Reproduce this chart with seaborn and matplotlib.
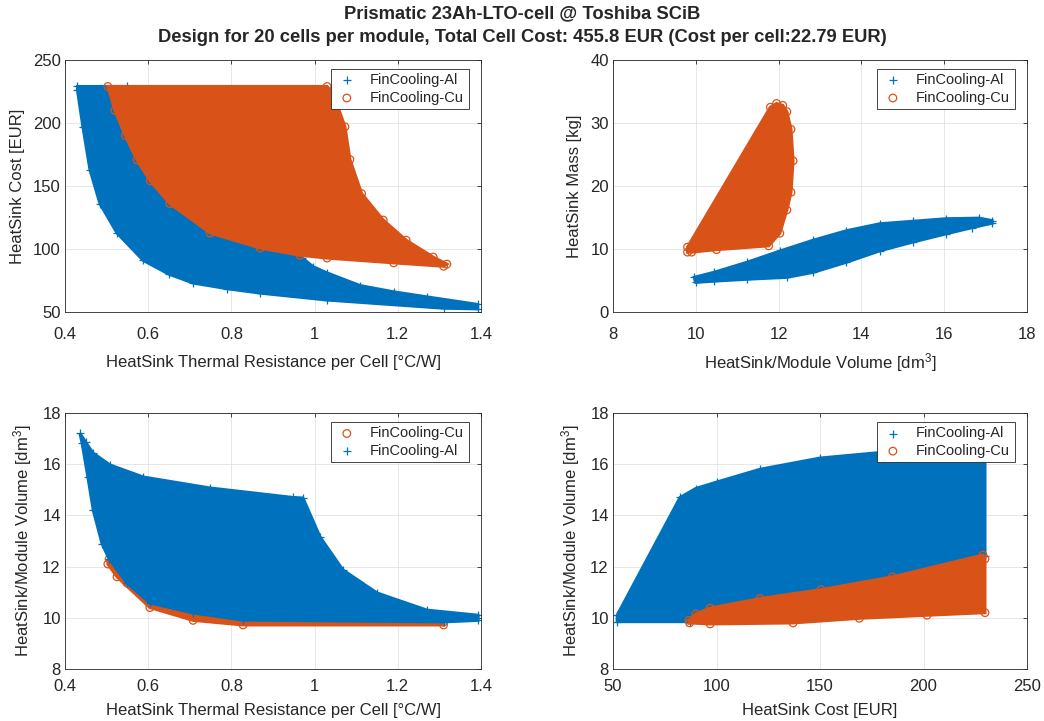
import matplotlib
matplotlib.use("Agg")
import matplotlib.pyplot as plt
import seaborn as sns
import pandas as pd

# ---------------- data (outline vertices of each design cloud) ----------------
# Top-left: HeatSink cost [EUR] vs thermal resistance per cell [degC/W]
tl_al_res = [0.430, 0.550, 0.970, 0.996, 1.030, 1.109, 1.190, 1.270, 1.392, 1.392, 1.310, 1.030,
             0.869, 0.790, 0.708, 0.650, 0.588, 0.525, 0.484, 0.460, 0.443, 0.430]
tl_al_cost = [229, 229, 93, 86, 81, 71, 66, 62, 56, 52.5, 53, 59.5,
              65, 68.5, 73, 80, 91, 112.7, 136, 163, 197, 226]
tl_cu_res = [0.503, 1.030, 1.044, 1.073, 1.085, 1.113, 1.165, 1.220, 1.285, 1.318, 1.310, 1.190,
             1.030, 0.965, 0.869, 0.749, 0.652, 0.605, 0.573, 0.545, 0.520]
tl_cu_cost = [229, 229, 224, 197, 171, 144, 123, 107, 93.6, 88, 86.3, 89,
              92.8, 95, 100.8, 112.7, 136, 154, 170.6, 190, 210]

# Top-right: HeatSink mass [kg] vs HeatSink/module volume [dm3]
tr_al_vol = [9.96, 10.44, 11.24, 12.04, 12.84, 13.64, 14.44, 15.24, 16.04, 16.84, 17.16,
             17.16, 16.68, 16.04, 15.24, 14.44, 13.64, 12.84, 12.20, 11.24, 10.44, 10.00]
tr_al_mass = [5.5, 6.3, 7.9, 9.7, 11.4, 12.9, 14.0, 14.4, 14.8, 14.9, 14.5,
              14.1, 13.4, 12.4, 11.1, 9.7, 7.9, 6.3, 5.5, 5.2, 4.9, 4.7]
tr_cu_vol = [9.80, 9.80, 11.80, 11.95, 12.10, 12.20, 12.30, 12.35, 12.30, 12.20, 12.03, 11.76, 10.50, 9.90]
tr_cu_mass = [9.5, 10.3, 32.5, 33.1, 32.8, 31.8, 29.0, 24.0, 19.0, 16.2, 12.5, 10.5, 9.9, 9.5]

# Bottom-left: HeatSink/module volume [dm3] vs thermal resistance per cell
bl_al_res = [0.436, 0.450, 0.467, 0.508, 0.588, 0.749, 0.948, 0.972, 1.013, 1.068, 1.150, 1.270, 1.393,
             1.393, 1.310, 0.828, 0.708, 0.604, 0.549, 0.506, 0.489, 0.468, 0.455, 0.441]
bl_al_vol = [17.2, 16.85, 16.44, 15.97, 15.5, 15.07, 14.7, 14.68, 13.16, 11.87, 10.97, 10.3, 10.1,
             9.9, 9.84, 9.91, 10.19, 10.58, 11.36, 12.3, 12.9, 14.2, 15.5, 16.83]
bl_cu_res = [0.506, 0.549, 0.604, 0.708, 0.828, 1.310, 1.310, 0.828, 0.708, 0.604, 0.525, 0.503]
bl_cu_vol = [12.3, 11.36, 10.58, 10.19, 9.91, 9.84, 9.72, 9.72, 9.90, 10.4, 11.6, 12.1]

# Bottom-right: HeatSink/module volume [dm3] vs HeatSink cost [EUR]
br_al_cost = [52, 52, 82.4, 90, 100, 121, 150, 185, 229, 229.7, 229.7, 87]
br_al_vol = [9.85, 10.1, 14.7, 15.05, 15.3, 15.8, 16.24, 16.5, 16.6, 16.3, 12.4, 9.85]
br_cu_cost = [86.7, 90, 96.9, 121, 150.5, 185, 228.7, 229.7, 229.7, 201.7, 169, 137, 96.9, 87]
br_cu_vol = [9.9, 10.15, 10.38, 10.75, 11.1, 11.6, 12.45, 12.3, 10.2, 10.1, 9.98, 9.8, 9.76, 9.8]

label_al = "FinCooling-Al"
label_cu = "FinCooling-Cu"

title1 = "Prismatic 23Ah-LTO-cell @ Toshiba SCiB"
title2 = "Design for 20 cells per module, Total Cell Cost: 455.8 EUR (Cost per cell:22.79 EUR)"

# ---------------- style ----------------
BLUE = "#0072BD"
ORANGE = "#D95319"
AXC = "#262626"

sns.set_theme(style="whitegrid")
plt.rcParams.update({
    "font.family": ["Liberation Sans", "DejaVu Sans"],
    "mathtext.default": "regular",
    "axes.edgecolor": AXC,
    "axes.linewidth": 0.6,
    "grid.color": "#e3e3e3",
    "grid.linewidth": 0.6,
    "xtick.color": AXC,
    "ytick.color": AXC,
    "axes.labelcolor": AXC,
})

fig = plt.figure(figsize=(10.44, 7.21), dpi=100)
W, H = 1044.0, 721.0


def make_ax(l, t, r, b):
    return fig.add_axes([l / W, 1 - b / H, (r - l) / W, (b - t) / H])


ax_tl = make_ax(65, 60, 481, 312)
ax_tr = make_ax(613, 60, 1027, 312)
ax_bl = make_ax(65, 413, 481, 669)
ax_br = make_ax(613, 413, 1027, 669)


def cloud(ax, xs, ys, color, marker, label, z):
    ax.fill(xs, ys, facecolor=color, edgecolor=color, linewidth=2.2, zorder=z)
    df = pd.DataFrame({"x": xs, "y": ys})
    if marker == "+":
        sns.scatterplot(data=df, x="x", y="y", ax=ax, marker="+", color=color,
                        s=40, linewidth=0.9, label=label, zorder=z + 0.5)
    else:
        sns.scatterplot(data=df, x="x", y="y", ax=ax, marker="o", facecolors="none",
                        edgecolor=color, s=30, linewidth=0.9, label=label, zorder=z + 0.5)


# top-left
cloud(ax_tl, tl_al_res, tl_al_cost, BLUE, "+", label_al, 2)
cloud(ax_tl, tl_cu_res, tl_cu_cost, ORANGE, "o", label_cu, 3)
# top-right
cloud(ax_tr, tr_al_vol, tr_al_mass, BLUE, "+", label_al, 2)
cloud(ax_tr, tr_cu_vol, tr_cu_mass, ORANGE, "o", label_cu, 3)
# bottom-left (Cu first, Al on top)
cloud(ax_bl, bl_cu_res, bl_cu_vol, ORANGE, "o", label_cu, 2)
cloud(ax_bl, bl_al_res, bl_al_vol, BLUE, "+", label_al, 3)
# bottom-right
cloud(ax_br, br_al_cost, br_al_vol, BLUE, "+", label_al, 2)
cloud(ax_br, br_cu_cost, br_cu_vol, ORANGE, "o", label_cu, 3)

res_ticks = [0.4, 0.6, 0.8, 1.0, 1.2, 1.4]
res_labels = ["0.4", "0.6", "0.8", "1", "1.2", "1.4"]

settings = [
    (ax_tl, (0.4, 1.4), (50, 250), res_ticks, res_labels, [50, 100, 150, 200, 250],
     "HeatSink Thermal Resistance per Cell [°C/W]", "HeatSink Cost [EUR]", 10.5, 10.0),
    (ax_tr, (8, 18), (0, 40), [8, 10, 12, 14, 16, 18], None, [0, 10, 20, 30, 40],
     "HeatSink/Module Volume [dm$^3$]", "HeatSink Mass [kg]", 10.5, 7.0),
    (ax_bl, (0.4, 1.4), (8, 18), res_ticks, res_labels, [8, 10, 12, 14, 16, 18],
     "HeatSink Thermal Resistance per Cell [°C/W]", "HeatSink/Module Volume [dm$^3$]", 7.0, 6.5),
    (ax_br, (50, 250), (8, 18), [50, 100, 150, 200, 250], None, [8, 10, 12, 14, 16, 18],
     "HeatSink Cost [EUR]", "HeatSink/Module Volume [dm$^3$]", 7.0, 6.5),
]

for ax, xl, yl, xt, xtl, yt, xlab, ylab, xpad, lpad in settings:
    ax.set_xlim(*xl)
    ax.set_ylim(*yl)
    ax.set_xticks(xt)
    if xtl is not None:
        ax.set_xticklabels(xtl)
    else:
        ax.set_xticklabels([str(v) for v in xt])
    ax.set_yticks(yt)
    ax.set_yticklabels([str(v) for v in yt])
    ax.set_xlabel(xlab, fontsize=12, labelpad=lpad)
    ax.set_ylabel(ylab, fontsize=12, labelpad=6)
    ax.tick_params(axis="both", labelsize=12, direction="in", length=3, width=0.6,
                   top=True, right=True)
    ax.tick_params(axis="x", pad=xpad)
    ax.tick_params(axis="y", pad=3)
    ax.grid(True, zorder=0)
    ax.set_axisbelow(True)
    for sp in ax.spines.values():
        sp.set_visible(True)
        sp.set_color(AXC)
        sp.set_linewidth(0.6)
        sp.set_zorder(10)
    handles, labels = ax.get_legend_handles_labels()
    leg = ax.legend(handles, labels, loc="upper right", bbox_to_anchor=(0.97, 0.965),
                    borderaxespad=0, fontsize=10.5, frameon=True, fancybox=False,
                    edgecolor=AXC, framealpha=1, handletextpad=0.8, borderpad=0.3,
                    labelspacing=0.25, handlelength=1.6)
    leg.get_frame().set_linewidth(0.6)
    leg.set_zorder(20)

fig.text(0.5, 1 - 14 / H, title1, ha="center", va="center", fontsize=13.2,
         fontweight="bold", family=["Liberation Sans", "DejaVu Sans"])
fig.text(0.5, 1 - 37 / H, title2, ha="center", va="center", fontsize=13.2,
         fontweight="bold", family=["Liberation Sans", "DejaVu Sans"])

fig.savefig("out.png", dpi=100)
